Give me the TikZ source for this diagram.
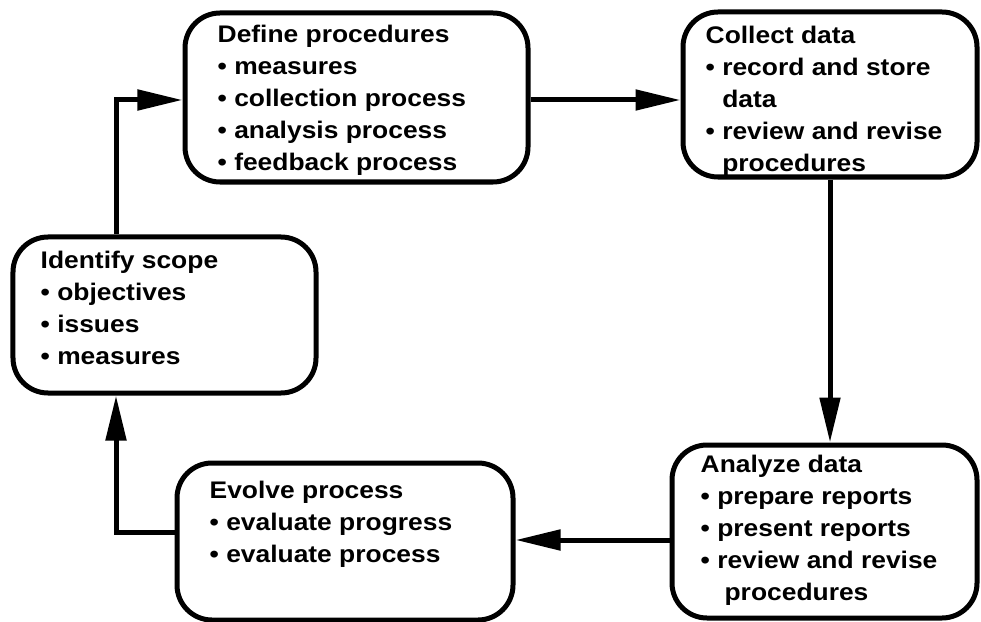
\documentclass[tikz,border=0pt]{standalone}
\usepackage{fontspec}
\setmainfont{Liberation Sans}[FakeStretch=1.1]
\usetikzlibrary{arrows.meta, positioning}
\tikzset{
    stage/.style={draw, line width=5bp, rounded corners=35bp, fill=white, inner sep=0pt},
    stagetext/.style={align=left, inner sep=0pt, font=\fontsize{24bp}{32bp}\selectfont\bfseries},
    flow/.style={line width=5bp, -{Triangle[length=45bp, width=20bp]}}
}
\newcommand{\cont}{\hphantom{\textbullet\ }}

\begin{document}
\begin{tikzpicture}[x=1bp, y=-1bp]
    \useasboundingbox (0,0) rectangle (981,622);

    % stage boxes
    \node (define) [stage, minimum width=343bp, minimum height=169bp] at (356.5,97.5) {};
    \node (collect) [stage, minimum width=294bp, minimum height=165bp] at (830,94.5) {};
    \node (identify) [stage, minimum width=303bp, minimum height=156bp] at (164.5,315) {};
    \node (analyze) [stage, minimum width=305bp, minimum height=173bp] at (824.5,531.5) {};
    \node (evolve) [stage, minimum width=336bp, minimum height=157bp] at (345,541.5) {};

    % stage texts
    \node (define_txt) [stagetext, below right=14bp and 35bp of define.north west]
        {Define procedures\\ • measures\\ • collection process\\ • analysis process\\ • feedback process};
    \node (collect_txt) [stagetext, below right=16bp and 25bp of collect.north west]
        {Collect data\\ • record and store\\ \cont data\\ • review and revise\\ \cont procedures};
    \node (identify_txt) [stagetext, below right=16bp and 30bp of identify.north west]
        {Identify scope\\ • objectives\\ • issues\\ • measures};
    \node (analyze_txt) [stagetext, below right=12bp and 31bp of analyze.north west]
        {Analyze data\\ • prepare reports\\ • present reports\\ • review and revise\\ \cont\ procedures};
    \node (evolve_txt) [stagetext, below right=20bp and 35bp of evolve.north west]
        {Evolve process\\ • evaluate progress\\ • evaluate process};

    % cycle
    \draw [flow] ([yshift=-2.5bp]define.east) -- ([yshift=-2.5bp]define.east -| collect.west);
    \draw [flow] (collect.south) -- (collect.south |- analyze.north);
    \draw [flow] ([yshift=-8.5bp]analyze.west) -- ([yshift=-8.5bp]analyze.west -| evolve.east);
    \draw [flow] ([yshift=9.5bp]evolve.west) -| ([xshift=-48.5bp]identify.south);
    \draw [flow] ([xshift=-48.5bp]identify.north) |- ([yshift=-2.5bp]define.west);
\end{tikzpicture}
\end{document}
